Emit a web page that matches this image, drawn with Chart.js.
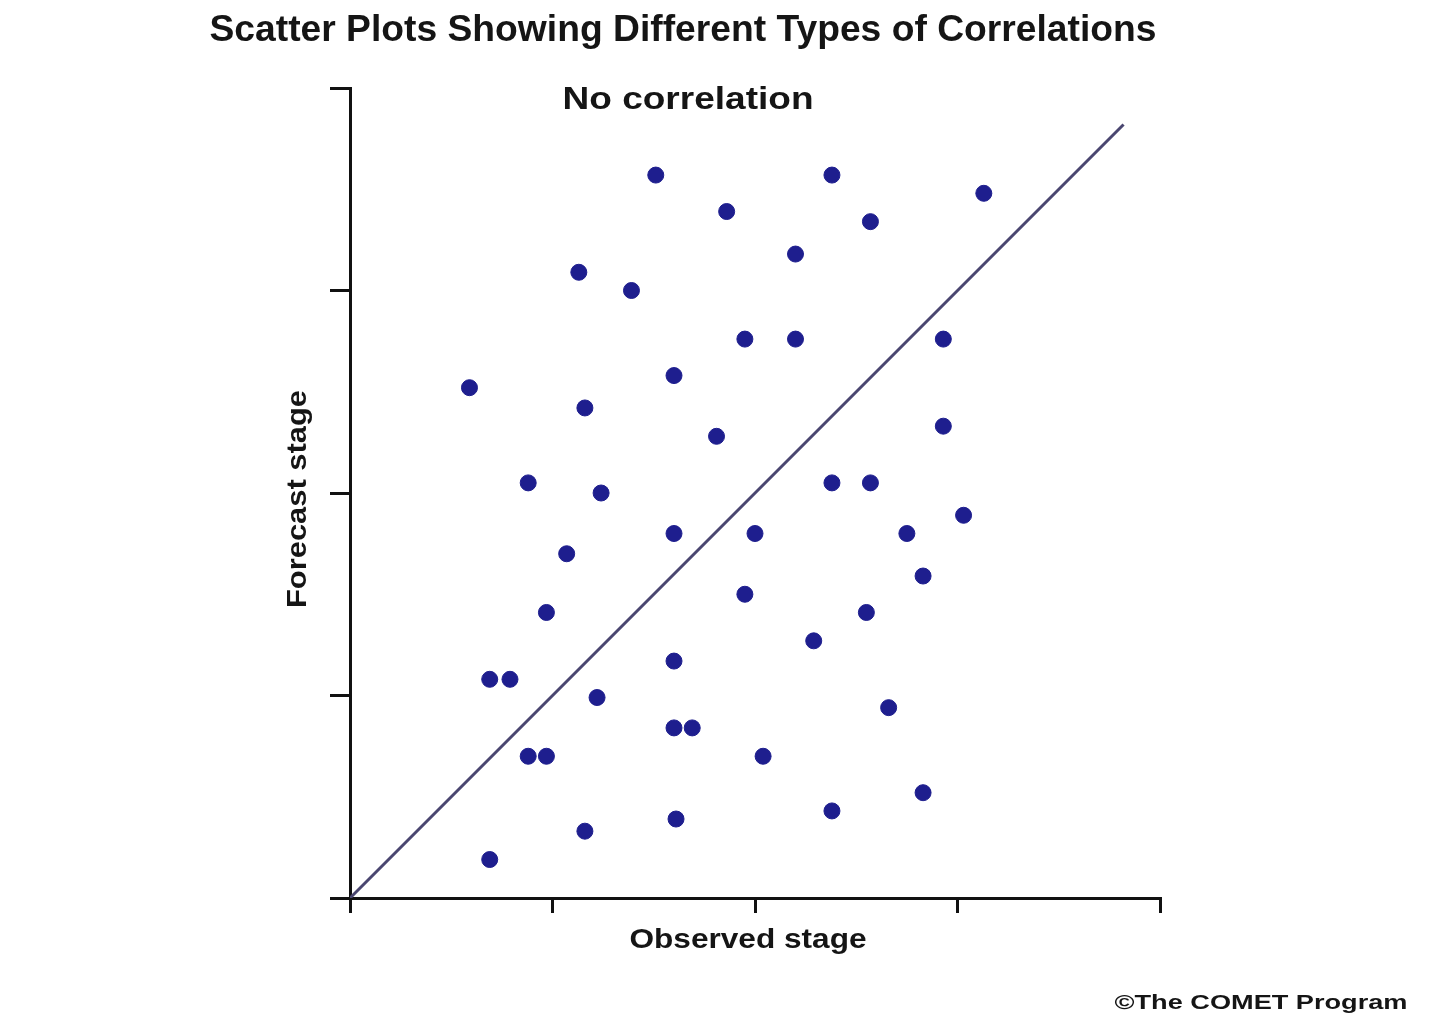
<!DOCTYPE html>
<html>
<head>
<meta charset="utf-8">
<title>No correlation</title>
<script src="https://cdn.jsdelivr.net/npm/chart.js@4.4.1/dist/chart.umd.min.js"></script>
<style>
  html, body { margin: 0; padding: 0; background: #fff; }
  #wrap { width: 1440px; height: 1023px; position: relative; }
</style>
</head>
<body>
<div id="wrap"><canvas id="chart"></canvas></div>
<script>
// Observed vs forecast stage (arbitrary units)
const observed = [1.51, 2.38, 3.13, 1.86, 2.57, 2.20, 1.13, 1.39, 1.95, 2.20,
                  2.93, 0.59, 1.60, 1.16, 1.81, 2.93, 0.88, 1.24, 2.38, 2.57,
                  3.03, 1.60, 2.00, 2.75, 1.07, 2.83, 1.95, 0.97, 2.55, 2.29,
                  1.60, 0.69, 0.79, 1.22, 2.66, 1.60, 1.69, 0.88, 0.97, 2.04,
                  2.83, 2.38, 1.16, 1.61, 0.69];
const forecast = [3.57, 3.57, 3.48, 3.39, 3.34, 3.18, 3.09, 3.00, 2.76, 2.76,
                  2.76, 2.52, 2.58, 2.42, 2.28, 2.33, 2.05, 2.00, 2.05, 2.05,
                  1.89, 1.80, 1.80, 1.80, 1.70, 1.59, 1.50, 1.41, 1.41, 1.27,
                  1.17, 1.08, 1.08, 0.99, 0.94, 0.84, 0.84, 0.70, 0.70, 0.70,
                  0.52, 0.43, 0.33, 0.39, 0.19];

// perfect forecast line
const lineX = [0, 3.82];
const lineY = [0, 3.82];

const axisTicks = [0, 1, 2, 3, 4];

const titleText = "Scatter Plots Showing Different Types of Correlations";
const subTitle = "No correlation";
const xTitle = "Observed stage";
const yTitle = "Forecast stage";
const credit = "\u00A9The COMET Program";

const points = observed.map((x, i) => ({ x: x, y: forecast[i] }));
const linePoints = lineX.map((x, i) => ({ x: x, y: lineY[i] }));

// text squeezed/stretched to a given width (the original lettering is wide)
function fitText(ctx, text, cx, cy, size, width, angle) {
  ctx.save();
  ctx.font = 'bold ' + size + 'px "Liberation Sans", Arial, sans-serif';
  const w = ctx.measureText(text).width;
  ctx.translate(cx, cy);
  if (angle) ctx.rotate(angle);
  ctx.scale(width / w, 1);
  ctx.fillText(text, 0, 0);
  ctx.restore();
}

// draw all the labels at fixed spots
const textPlugin = {
  id: 'texts',
  afterDraw(chart) {
    const ctx = chart.ctx;
    ctx.save();
    ctx.fillStyle = '#151515';
    ctx.textAlign = 'center';
    ctx.textBaseline = 'middle';

    fitText(ctx, titleText, 683, 31, 36, 947);
    fitText(ctx, subTitle, 688, 100, 31, 251);
    fitText(ctx, xTitle, 748, 940, 28, 237);
    fitText(ctx, yTitle, 298, 499, 28, 218, -Math.PI / 2);
    fitText(ctx, credit, 1261, 1003, 21, 293);

    ctx.restore();
  }
};

const ctx = document.getElementById("chart").getContext("2d");

const chart = new Chart(ctx, {
  type: "scatter",
  data: {
    datasets: [
      {
        label: "Perfect forecast",
        type: "line",
        data: linePoints,
        borderColor: "#4a4670",
        borderWidth: 3,
        pointRadius: 0,
        fill: false,
        order: 2
      },
      {
        label: "Stages",
        data: points,
        backgroundColor: "#1e1e8e",
        borderColor: "#1e1e8e",
        pointRadius: 8,
        pointHoverRadius: 8,
        order: 1
      }
    ]
  },
  options: {
    responsive: true,
    maintainAspectRatio: false,
    animation: false,
    layout: { padding: { left: 0, top: 88, right: 280, bottom: 0 } },
    plugins: {
      legend: { display: false },
      tooltip: { enabled: false },
      title: { display: false }
    },
    scales: {
      x: {
        type: "linear",
        min: 0,
        max: 4,
        afterFit: (scale) => { scale.height = 125; },
        afterBuildTicks: (scale) => { scale.ticks = axisTicks.map(v => ({ value: v })); },
        ticks: { display: false },
        grid: { drawOnChartArea: false, drawTicks: true, tickLength: 15, color: "#111", lineWidth: 3 },
        border: { display: true, color: "#111", width: 3 }
      },
      y: {
        type: "linear",
        min: 0,
        max: 4,
        afterFit: (scale) => { scale.width = 350; },
        afterBuildTicks: (scale) => { scale.ticks = axisTicks.map(v => ({ value: v })); },
        ticks: { display: false },
        grid: { drawOnChartArea: false, drawTicks: true, tickLength: 20, color: "#111", lineWidth: 3 },
        border: { display: true, color: "#111", width: 3 }
      }
    }
  },
  plugins: [textPlugin]
});
</script>
</body>
</html>
